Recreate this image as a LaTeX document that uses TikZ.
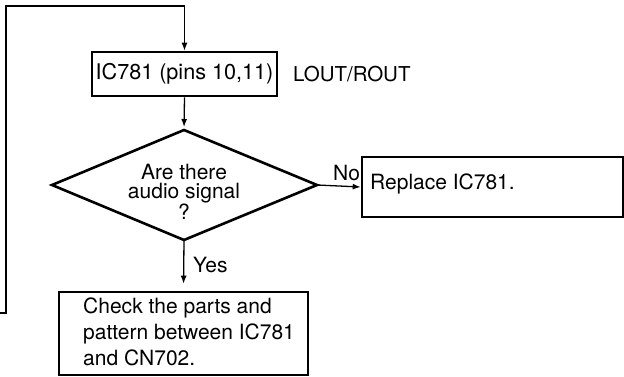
\documentclass[tikz,border=0pt]{standalone}
\usepackage{fontspec}
\setmainfont{TeX Gyre Heros}
\usetikzlibrary{arrows.meta}
\begin{document}
\begin{tikzpicture}[x=1pt,y=-1pt,
  boxnode/.style={draw,line width=2.6pt,rectangle,inner sep=0pt},
  conn/.style={line width=1.3pt,-{Latex[length=8pt,width=6pt]}},
  lbl/.style={font=\fontsize{21}{25}\selectfont,inner sep=0pt},
  every node/.style={font=\fontsize{21}{25}\selectfont}]
\useasboundingbox[fill=white] (0,0) rectangle (624,377);
% boxes
\node[boxnode,minimum width=185pt,minimum height=44pt,font=\fontsize{21.6}{25}\selectfont] (b1) at (184.5,74) {IC781 (pins 10,11)};
\node[lbl,anchor=west,font=\fontsize{20.5}{25}\selectfont] (lout) at (293,74) {LOUT/ROUT};
\node[boxnode,minimum width=261pt,minimum height=60pt] (b2) at (492.5,187) {};
\node[lbl,anchor=west] (t2) at (370,184) {Replace IC781.};
\node[boxnode,minimum width=249pt,minimum height=83pt] (b3) at (183.5,333.5) {};
\node[lbl,anchor=north west,align=left,font=\fontsize{21}{26}\selectfont] (t3) at (83,298) {Check the parts and\\pattern between IC781\\and CN702.};
% diamond
\coordinate (dT) at (184,130);
\coordinate (dB) at (184,240);
\coordinate (dL) at (52,185);
\coordinate (dR) at (317,185);
\draw[line width=2.6pt,line join=miter] (dT) -- (dR) -- (dB) -- (dL) -- cycle;
\node[lbl,align=center,font=\fontsize{21}{19.5}\selectfont] (q) at (184,192) {Are there\\audio signal\\?};
% connectors
\draw[conn,shorten >=3pt] (b1.south) -- (dT);
\draw[conn] (dR) -- (b2.west);
\draw[conn,shorten >=7pt] (dB) -- (b3.north);
\node[lbl,anchor=south west] (no) at (333,181) {No};
\node[lbl,anchor=west] (yes) at (193,265) {Yes};
% loop back
\coordinate (lstart) at (0,313);
\coordinate (lc1) at (6,313);
\coordinate (lc2) at (6,6);
\coordinate (lc3) at (184.5,6);
\draw[conn,line join=miter] (lstart) -- (lc1) -- (lc2) -- (lc3) -- (b1.north);
\end{tikzpicture}
\end{document}
